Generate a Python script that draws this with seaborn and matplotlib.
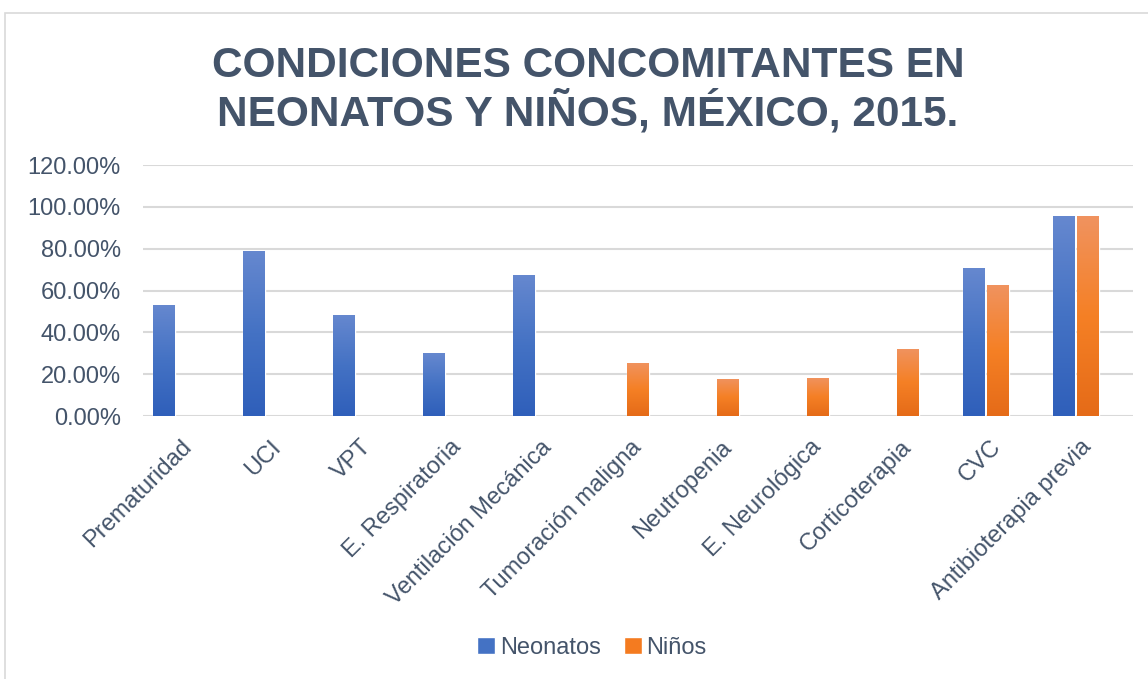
import numpy as np
import pandas as pd
import matplotlib
matplotlib.use("Agg")
import matplotlib.pyplot as plt
import seaborn as sns
from matplotlib.colors import LinearSegmentedColormap, to_rgb
from matplotlib.patches import Patch, Rectangle
from matplotlib.ticker import FuncFormatter, MultipleLocator

categories = ["Prematuridad", "UCI", "VPT", "E. Respiratoria", "Ventilación Mecánica",
              "Tumoración maligna", "Neutropenia", "E. Neurológica", "Corticoterapia",
              "CVC", "Antibioterapia previa"]
neonatos = [0.531, 0.790, 0.483, 0.301, 0.675, np.nan, np.nan, np.nan, np.nan, 0.708, 0.957]
ninos = [np.nan, np.nan, np.nan, np.nan, np.nan, 0.254, 0.177, 0.182, 0.321, 0.627, 0.957]
series_names = ["Neonatos", "Niños"]

title_lines = ["CONDICIONES CONCOMITANTES EN", "NEONATOS Y NIÑOS, MÉXICO, 2015."]

sns.set_theme(style="white")
plt.rcParams['font.family'] = ['Liberation Sans', 'DejaVu Sans']

rows = []
for c, a, b in zip(categories, neonatos, ninos):
    if not np.isnan(a):
        rows.append((c, series_names[0], a))
    if not np.isnan(b):
        rows.append((c, series_names[1], b))
df = pd.DataFrame(rows, columns=["cat", "serie", "valor"])

blue = "#4472C4"
orange = "#F47B20"
hue_order = series_names + [" "]
palette = {series_names[0]: blue, series_names[1]: orange, " ": "#A5A5A5"}

W, H = 1148, 679
fig = plt.figure(figsize=(W / 100, H / 100), dpi=100)
ax = fig.add_axes([143 / W, 1 - 416 / H, (1133 - 143) / W, (416 - 165) / H])

sns.barplot(data=df, x="cat", y="valor", hue="serie", order=categories,
            hue_order=hue_order, palette=palette, width=0.8, gap=0.12,
            saturation=1, errorbar=None, ax=ax, legend=False, zorder=3)

grad_blue = ["#2F5FBA", "#4472C4", "#6688CF"]      # bottom -> top
grad_orange = ["#E56B18", "#F58025", "#F09360"]

xl, yl = (-0.5, len(categories) - 0.5), (0, 1.2)
for p in list(ax.patches):
    h = p.get_height()
    if not np.isfinite(h) or h == 0:
        continue
    fc = p.get_facecolor()[:3]
    cols = grad_blue if np.allclose(fc, to_rgb(blue), atol=0.03) else grad_orange
    cmap = LinearSegmentedColormap.from_list("g", cols)
    grad = np.linspace(0, 1, 256).reshape(-1, 1)
    x0, y0, w = p.get_x(), p.get_y(), p.get_width()
    im = ax.imshow(grad, extent=[x0, x0 + w, y0, y0 + h], origin="lower",
                   aspect="auto", cmap=cmap, zorder=4)
    im.set_clip_path(p)
ax.set_xlim(*xl)
ax.set_ylim(*yl)

ax.yaxis.set_major_locator(MultipleLocator(0.2))
ax.yaxis.set_major_formatter(FuncFormatter(lambda v, _: f"{v * 100:.2f}%"))
ax.grid(axis="y", color="#D9D9D9", linewidth=1.5, zorder=0)
ax.grid(axis="x", visible=False)
for s in ax.spines.values():
    s.set_visible(False)
ax.set_xlabel("")
ax.set_ylabel("")

txt_col = "#44546A"
ax.tick_params(axis="both", length=0, colors=txt_col, labelsize=17)
ax.set_xticks(range(len(categories)))
ax.set_xticklabels(categories, rotation=45, ha="right", va="center",
                   rotation_mode="anchor", color=txt_col, fontsize=17)
ax.tick_params(axis="x", pad=20)
ax.tick_params(axis="y", pad=16)

fig.text(588 / W, 1 - 77 / H, title_lines[0], ha="center", va="baseline",
         fontsize=30.5, fontweight="bold", color=txt_col)
fig.text(588 / W, 1 - 126 / H, title_lines[1], ha="center", va="baseline",
         fontsize=30.5, fontweight="bold", color=txt_col)

handles = [Patch(facecolor=blue, label=series_names[0]),
           Patch(facecolor=orange, label=series_names[1])]
fig.legend(handles=handles, loc="center", bbox_to_anchor=(592 / W, 1 - 648 / H),
           ncol=2, frameon=False, fontsize=17, labelcolor=txt_col,
           handlelength=0.75, handleheight=0.75, handletextpad=0.2,
           columnspacing=1.0)

fig.patches.append(Rectangle((5 / W, -0.1), 1.2, 1 - 13 / H + 0.1,
                             transform=fig.transFigure, fill=False,
                             edgecolor="#D9D9D9", linewidth=1.2))

fig.savefig("out.png", dpi=100)
